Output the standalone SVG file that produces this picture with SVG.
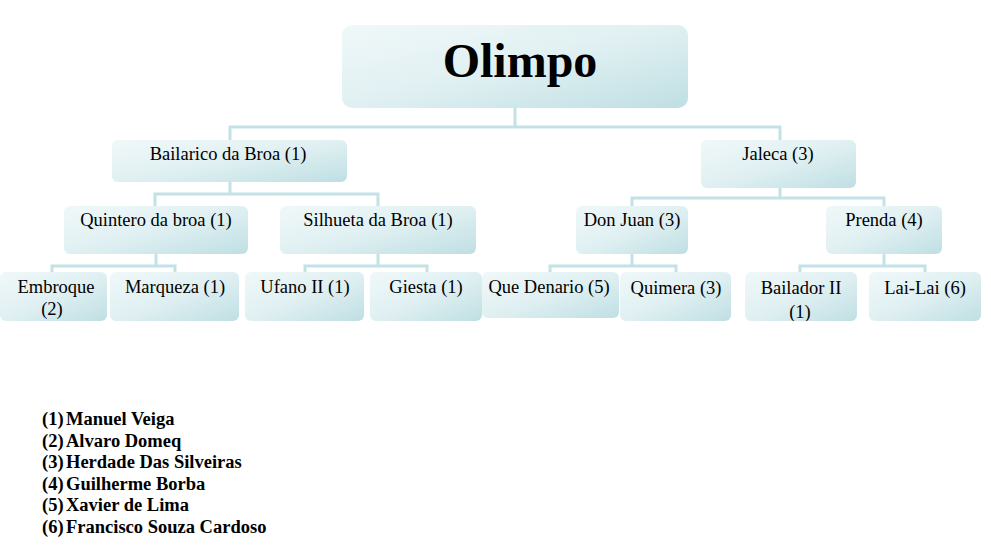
<svg xmlns="http://www.w3.org/2000/svg" width="991" height="550" viewBox="0 0 991 550">
<defs>
<linearGradient id="g" x1="0" y1="0" x2="1" y2="1">
<stop offset="0" stop-color="#f0f8f9"/>
<stop offset="0.5" stop-color="#e0f0f2"/>
<stop offset="1" stop-color="#bfdfe3"/>
</linearGradient>
<clipPath id="cb"><rect x="745" y="272" width="112" height="49" rx="6"/></clipPath>
<clipPath id="ce"><rect x="0" y="272" width="107" height="49" rx="6"/></clipPath>
</defs>
<style>
.b{fill:url(#g);}
.t{font-family:"Liberation Serif","Times New Roman",serif;font-size:18.5px;fill:#000;text-anchor:middle;}
.c{stroke:#c3e2e5;fill:none;stroke-width:3;}
.l{font-family:"Liberation Serif","Times New Roman",serif;font-size:18.5px;font-weight:bold;fill:#000;}
</style>
<rect width="991" height="550" fill="#fff"/>
<g id="connectors">
<path class="c" d="M515 108V127" />
<path class="c" stroke-width="4" d="M230 140V127H780V140"/>
<path class="c" d="M230 182V194M155 206V194H378V206"/>
<path class="c" d="M780 188V198M632 206V198H884V206"/>
<path class="c" d="M156 254V266M52 272V266H175V272"/>
<path class="c" d="M378 254V266M305 272V266H427V272"/>
<path class="c" d="M632 254V266M550 272V266H676V272"/>
<path class="c" d="M884 254V266M800 272V266H925V272"/>
</g>
<g id="olimpo"><rect class="b" x="342" y="25" width="346" height="83" rx="10"/><text x="520" y="77" font-family="Liberation Serif,serif" font-size="48" font-weight="bold" text-anchor="middle">Olimpo</text></g>
<g id="bailarico"><rect class="b" x="112" y="140" width="235" height="42" rx="6"/><text class="t" x="228" y="160">Bailarico da Broa (1)</text></g>
<g id="jaleca"><rect class="b" x="701" y="140" width="155" height="48" rx="6"/><text class="t" x="778" y="160">Jaleca (3)</text></g>
<g id="quintero"><rect class="b" x="64" y="206" width="184" height="48" rx="6"/><text class="t" x="156" y="226">Quintero da broa (1)</text></g>
<g id="silhueta"><rect class="b" x="280" y="206" width="196" height="48" rx="6"/><text class="t" x="378" y="226">Silhueta da Broa (1)</text></g>
<g id="donjuan"><rect class="b" x="576" y="206" width="112" height="48" rx="6"/><text class="t" x="632" y="226">Don Juan (3)</text></g>
<g id="prenda"><rect class="b" x="826" y="206" width="116" height="48" rx="6"/><text class="t" x="884" y="226">Prenda (4)</text></g>
<g id="embroque"><rect class="b" x="0" y="272" width="107" height="49" rx="6"/><g clip-path="url(#ce)"><text class="t" x="56" y="293">Embroque</text><text class="t" x="52" y="315">(2)</text></g></g>
<g id="marqueza"><rect class="b" x="110" y="272" width="129" height="49" rx="6"/><text class="t" x="175" y="293">Marqueza (1)</text></g>
<g id="ufano"><rect class="b" x="245" y="272" width="119" height="49" rx="6"/><text class="t" x="305" y="293">Ufano II (1)</text></g>
<g id="giesta"><rect class="b" x="370" y="272" width="112" height="49" rx="6"/><text class="t" x="426" y="293">Giesta (1)</text></g>
<g id="quedenario"><rect class="b" x="482" y="272" width="137" height="46" rx="6"/><text class="t" x="549" y="293">Que Denario (5)</text></g>
<g id="quimera"><rect class="b" x="620" y="272" width="111" height="49" rx="6"/><text class="t" x="676" y="294">Quimera (3)</text></g>
<g id="bailador"><rect class="b" x="745" y="272" width="112" height="49" rx="6"/><g clip-path="url(#cb)"><text class="t" x="801" y="294">Bailador II</text><text class="t" x="800" y="318">(1)</text></g></g>
<g id="lailai"><rect class="b" x="869" y="272" width="112" height="49" rx="6"/><text class="t" x="925" y="294">Lai-Lai (6)</text></g>
<g id="legend">
<text class="l" x="42" y="425">(1)</text><text class="l" x="66" y="425">Manuel Veiga</text>
<text class="l" x="42" y="447">(2)</text><text class="l" x="66" y="447">Alvaro Domeq</text>
<text class="l" x="42" y="468">(3)</text><text class="l" x="66" y="468">Herdade Das Silveiras</text>
<text class="l" x="42" y="490">(4)</text><text class="l" x="66" y="490">Guilherme Borba</text>
<text class="l" x="42" y="511">(5)</text><text class="l" x="66" y="511">Xavier de Lima</text>
<text class="l" x="42" y="533">(6)</text><text class="l" x="66" y="533">Francisco Souza Cardoso</text>
</g>
</svg>
